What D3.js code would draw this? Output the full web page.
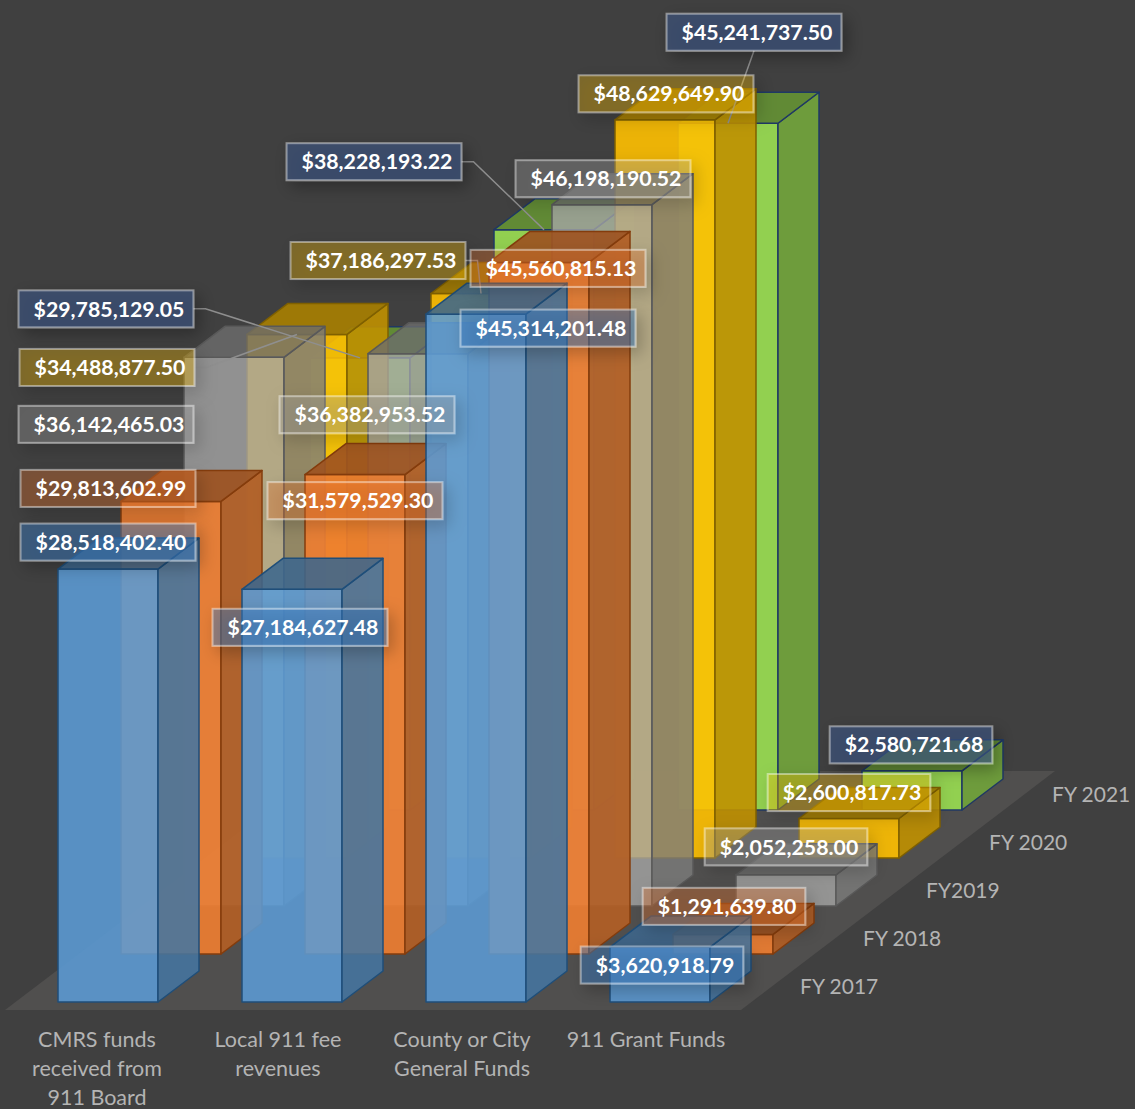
<!DOCTYPE html>
<html>

<head>
    <meta charset='utf-8'>
    <title>911 funding by source</title>
    <script src='https://cdn.jsdelivr.net/npm/d3@7'></script>
    <style>
        html, body { margin: 0; padding: 0; background: #404040; overflow: hidden; }
        text { font-family: Lato, 'Open Sans', sans-serif; }
    </style>
</head>

<body>
    <svg width='1135' height='1109'></svg>
    <script type='text/javascript'>

        const categories = ['CMRS funds received from 911 Board', 'Local 911 fee revenues', 'County or City General Funds', '911 Grant Funds']
        const categoryLines = [['CMRS funds', 'received from', '911 Board'], ['Local 911 fee', 'revenues'], ['County or City', 'General Funds'], ['911 Grant Funds']]
        const seriesNames = ['FY 2017', 'FY 2018', 'FY2019', 'FY 2020', 'FY 2021']

        const fy2017 = [28518402.40, 27184627.48, 45314201.48, 3620918.79]
        const fy2018 = [29813602.99, 31579529.30, 45560815.13, 1291639.80]
        const fy2019 = [36142465.03, 36382953.52, 46198190.52, 2052258.00]
        const fy2020 = [34488877.50, 37186297.53, 48629649.90, 2600817.73]
        const fy2021 = [29785129.05, 38228193.22, 45241737.50, 2580721.68]
        const seriesValues = [fy2017, fy2018, fy2019, fy2020, fy2021]

        // face colour, edge colour, face opacity, label fill, label opacity
        const faceColors = ['#5B9BD5', '#ED7D31', '#A5A5A5', '#FFC000', '#92D050']
        const edgeColors = ['#1F4E79', '#843C0C', '#595959', '#7F6000', '#1F3864']
        const faceAlpha = [0.88, 0.92, 0.8, 0.9, 1]
        const labelFill = ['rgb(58,122,189)', 'rgb(230,115,40)', 'rgb(165,165,165)', 'rgb(255,192,0)', 'rgb(60,85,132)']
        const labelAlpha = [0.45, 0.32, 0.3, 0.3, 0.6]

        // label centre relative to the top of the bar's front face, per series then category
        const labelOffsets = [
            [[0, -27], [8, 38], [72, 14], [2, 18]],
            [[-63, -13], [0, 26], [19, 6], [1, -28]],
            [[-128, 67], [-51, 61], [1, -26], [0, -28]],
            [[-190, 33], [-103, -33], [1, -26], [0, -26]],
            [[-254, -49], [-170, -68], [26, -91], [-1, -26]]
        ]
        const leaders = ['3-0', '3-1', '4-0', '4-1', '4-2']

        const svg = d3.select('svg')
        const defs = svg.append('defs')
        defs.append('filter').attr('id', 'soft').attr('x', '-25%').attr('y', '-80%').attr('width', '150%').attr('height', '300%')
            .append('feDropShadow')
            .attr('dx', 5).attr('dy', 6).attr('stdDeviation', 8)
            .attr('flood-color', '#000').attr('flood-opacity', 0.5)

        const baseY = 1002
        const x = d3.scaleBand().domain(categories).range([58, 710]).paddingInner(84 / 184).paddingOuter(0)
        const h = d3.scaleLinear().domain([0, 50000000]).range([0, 759])
        const depthX = d3.scalePoint().domain(seriesNames).range([0, 252])
        const depthY = d3.scalePoint().domain(seriesNames).range([0, 192])
        const barDx = 41, barDy = 31
        const fmt = d3.format('$,.2f')

        // floor
        const floorBackX = 314, floorBackY = 239
        const fl = [[x.range()[0] - 53, baseY + 8], [x.range()[1] + 31, baseY + 8]]
        svg.append('path')
            .attr('d', d3.line()([fl[0], fl[1], [fl[1][0] + floorBackX, fl[1][1] - floorBackY], [fl[0][0] + floorBackX, fl[0][1] - floorBackY]]) + 'Z')
            .attr('fill', '#504f4e')

        // flat list of bars, back row first
        const bars = []
        seriesNames.forEach((s, si) => categories.forEach((c, ci) => {
            const v = seriesValues[si][ci]
            const left = x(c) + depthX(s)
            const bottom = baseY - depthY(s)
            const top = bottom - h(v)
            bars.push({ si, ci, v, left, right: left + x.bandwidth(), top, bottom })
        }))
        bars.sort((a, b) => b.si - a.si || a.ci - b.ci)

        const barG = svg.selectAll('g.bar').data(bars).enter().append('g').attr('class', 'bar')
            .attr('stroke', d => edgeColors[d.si])
            .attr('stroke-width', 1.5)
            .attr('stroke-linejoin', 'round')

        const poly = pts => d3.line()(pts) + 'Z'

        barG.append('path') // front
            .attr('d', d => poly([[d.left, d.top], [d.right, d.top], [d.right, d.bottom], [d.left, d.bottom]]))
            .attr('fill', d => faceColors[d.si])
            .attr('fill-opacity', d => faceAlpha[d.si])
        barG.append('path') // side
            .attr('d', d => poly([[d.right, d.top], [d.right + barDx, d.top - barDy], [d.right + barDx, d.bottom - barDy], [d.right, d.bottom]]))
            .attr('fill', d => d3.color(faceColors[d.si]).darker(0.8))
            .attr('fill-opacity', d => faceAlpha[d.si])
        barG.append('path') // top
            .attr('d', d => poly([[d.left, d.top], [d.right, d.top], [d.right + barDx, d.top - barDy], [d.left + barDx, d.top - barDy]]))
            .attr('fill', d => d3.color(faceColors[d.si]).darker(1.15))
            .attr('fill-opacity', d => faceAlpha[d.si])

        // category axis, wrapped by hand
        const axisG = svg.append('g')
            .attr('transform', 'translate(-14,1018)')
            .call(d3.axisBottom(x).tickSize(0).tickFormat(''))
        axisG.select('.domain').remove()
        axisG.selectAll('.tick text').remove()
        axisG.selectAll('.tick').append('text')
            .attr('text-anchor', 'middle')
            .attr('fill', '#b4b4b4')
            .attr('font-size', 21.5)
            .selectAll('tspan')
            .data((d, i) => categoryLines[i].map(t => ({ t, nudge: i === 0 ? 3 : 0 })))
            .enter().append('tspan')
            .attr('x', d => d.nudge)
            .attr('y', (d, i) => 29 + i * 29)
            .text(d => d.t)

        // series names along the floor edge
        svg.selectAll('text.series').data(seriesNames).enter().append('text')
            .attr('class', 'series')
            .attr('x', d => x.range()[1] + 90 + depthX(d))
            .attr('y', d => baseY - 8 - depthY(d))
            .attr('fill', '#b4b4b4')
            .attr('font-size', 21)
            .text(d => d)

        // data labels
        const boxH = 37
        const labels = bars.map(d => {
            const txt = fmt(d.v)
            const off = labelOffsets[d.si][d.ci]
            return { ...d, txt, ax: (d.left + d.right) / 2, ay: d.top, cx: (d.left + d.right) / 2 + off[0], cy: d.top + off[1] }
        })
        const labelG = svg.selectAll('g.label').data(labels).enter().append('g').attr('class', 'label')
        const labelText = labelG.append('text')
            .attr('x', d => d.cx + 3) // the text sits a little right of the box centre
            .attr('y', d => d.cy)
            .attr('dy', '0.36em')
            .attr('text-anchor', 'middle')
            .attr('fill', '#fff')
            .attr('font-size', 21.3)
            .attr('font-weight', 700)
            .text(d => d.txt)
        labelText.each(function (d) { d.w = this.getComputedTextLength() + 24 })
        labelG.insert('rect', 'text')
            .attr('x', d => d.cx - d.w / 2)
            .attr('y', d => d.cy - boxH / 2)
            .attr('width', d => d.w)
            .attr('height', boxH)
            .attr('fill', d => labelFill[d.si])
            .attr('fill-opacity', d => labelAlpha[d.si])
            .attr('stroke', 'rgba(255,255,255,0.42)')
            .attr('stroke-width', 2)
            .attr('filter', 'url(#soft)')

        // leader lines sit under the boxes
        labelG.filter(d => leaders.includes(d.si + '-' + d.ci))
            .insert('path', 'rect')
            .attr('fill', 'none')
            .attr('stroke', '#8f8f8f')
            .attr('stroke-width', 1.5)
            .attr('d', d => {
                const edge = d.cx + d.w / 2
                if (d.ax < edge && d.ay > d.cy) return d3.line()([[d.cx, d.cy + boxH / 2], [d.ax, d.ay]])
                return d3.line()([[edge, d.cy], [edge + 12, d.cy], [d.ax, d.ay]])
            })
    </script>
</body>

</html>
